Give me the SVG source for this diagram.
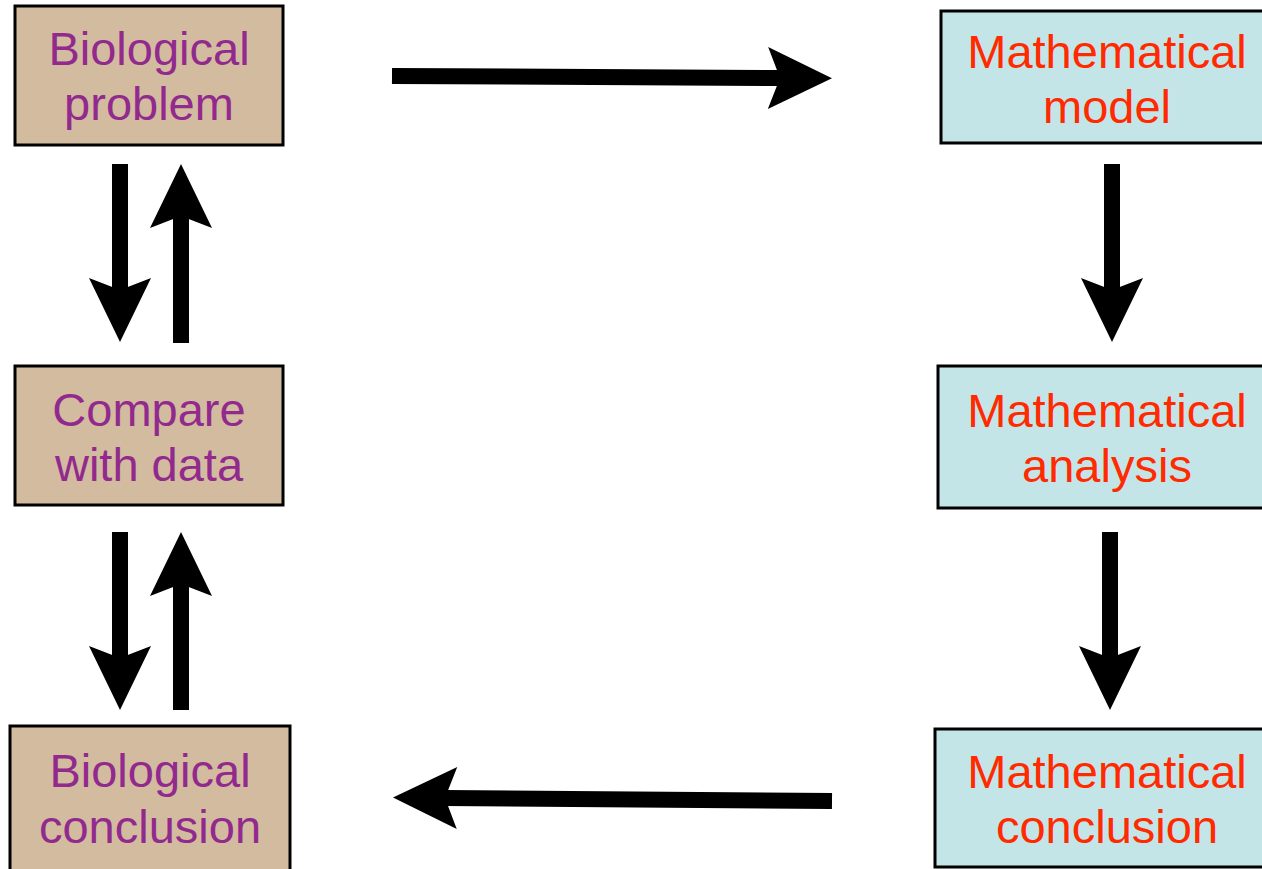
<svg xmlns="http://www.w3.org/2000/svg" width="1262" height="869" viewBox="0 0 1262 869">
<style>
.bio rect{fill:#D3BBA0;stroke:#000;stroke-width:3}
.math rect{fill:#C4E5E8;stroke:#000;stroke-width:3}
text{font-family:"Liberation Sans",Arial,sans-serif;font-size:47px;text-anchor:middle}
.bio text{fill:#922A8E}
.math text{fill:#FF2A00}
.conn line{stroke:#000;stroke-width:16;marker-end:url(#ah)}
</style>
<defs>
<marker id="ah" markerUnits="userSpaceOnUse" markerWidth="64" markerHeight="62" viewBox="0 0 64 62" refX="12" refY="31" orient="auto" overflow="visible">
<path d="M0,0 L64,31 L0,62 L12,31 Z" fill="#000"/>
</marker>
</defs>
<rect width="1262" height="869" fill="#fff"/>
<g id="bio-problem" class="bio"><rect x="15" y="6" width="268" height="139"/><text x="149" y="65">Biological</text><text x="149" y="120">problem</text></g>
<g id="compare-data" class="bio"><rect x="15" y="366" width="268" height="139"/><text x="149" y="426">Compare</text><text x="149" y="481">with data</text></g>
<g id="bio-conclusion" class="bio"><rect x="10" y="726" width="280" height="150"/><text x="150" y="787">Biological</text><text x="150" y="843">conclusion</text></g>
<g id="math-model" class="math"><rect x="941" y="11" width="340" height="132"/><text x="1107" y="68">Mathematical</text><text x="1107" y="123">model</text></g>
<g id="math-analysis" class="math"><rect x="938" y="366" width="340" height="142"/><text x="1107" y="427">Mathematical</text><text x="1107" y="482">analysis</text></g>
<g id="math-conclusion" class="math"><rect x="935" y="729" width="340" height="138"/><text x="1107" y="788">Mathematical</text><text x="1107" y="843">conclusion</text></g>
<g id="connectors" class="conn">
<line x1="392" y1="76" x2="780" y2="78"/>
<line x1="120" y1="164" x2="120" y2="290"/>
<line x1="181" y1="343" x2="181" y2="216"/>
<line x1="120" y1="532" x2="120" y2="658"/>
<line x1="181" y1="710" x2="181" y2="584"/>
<line x1="1112" y1="164" x2="1112" y2="290"/>
<line x1="1110" y1="532" x2="1110" y2="658"/>
<line x1="832" y1="801" x2="445" y2="798"/>
</g>
</svg>
